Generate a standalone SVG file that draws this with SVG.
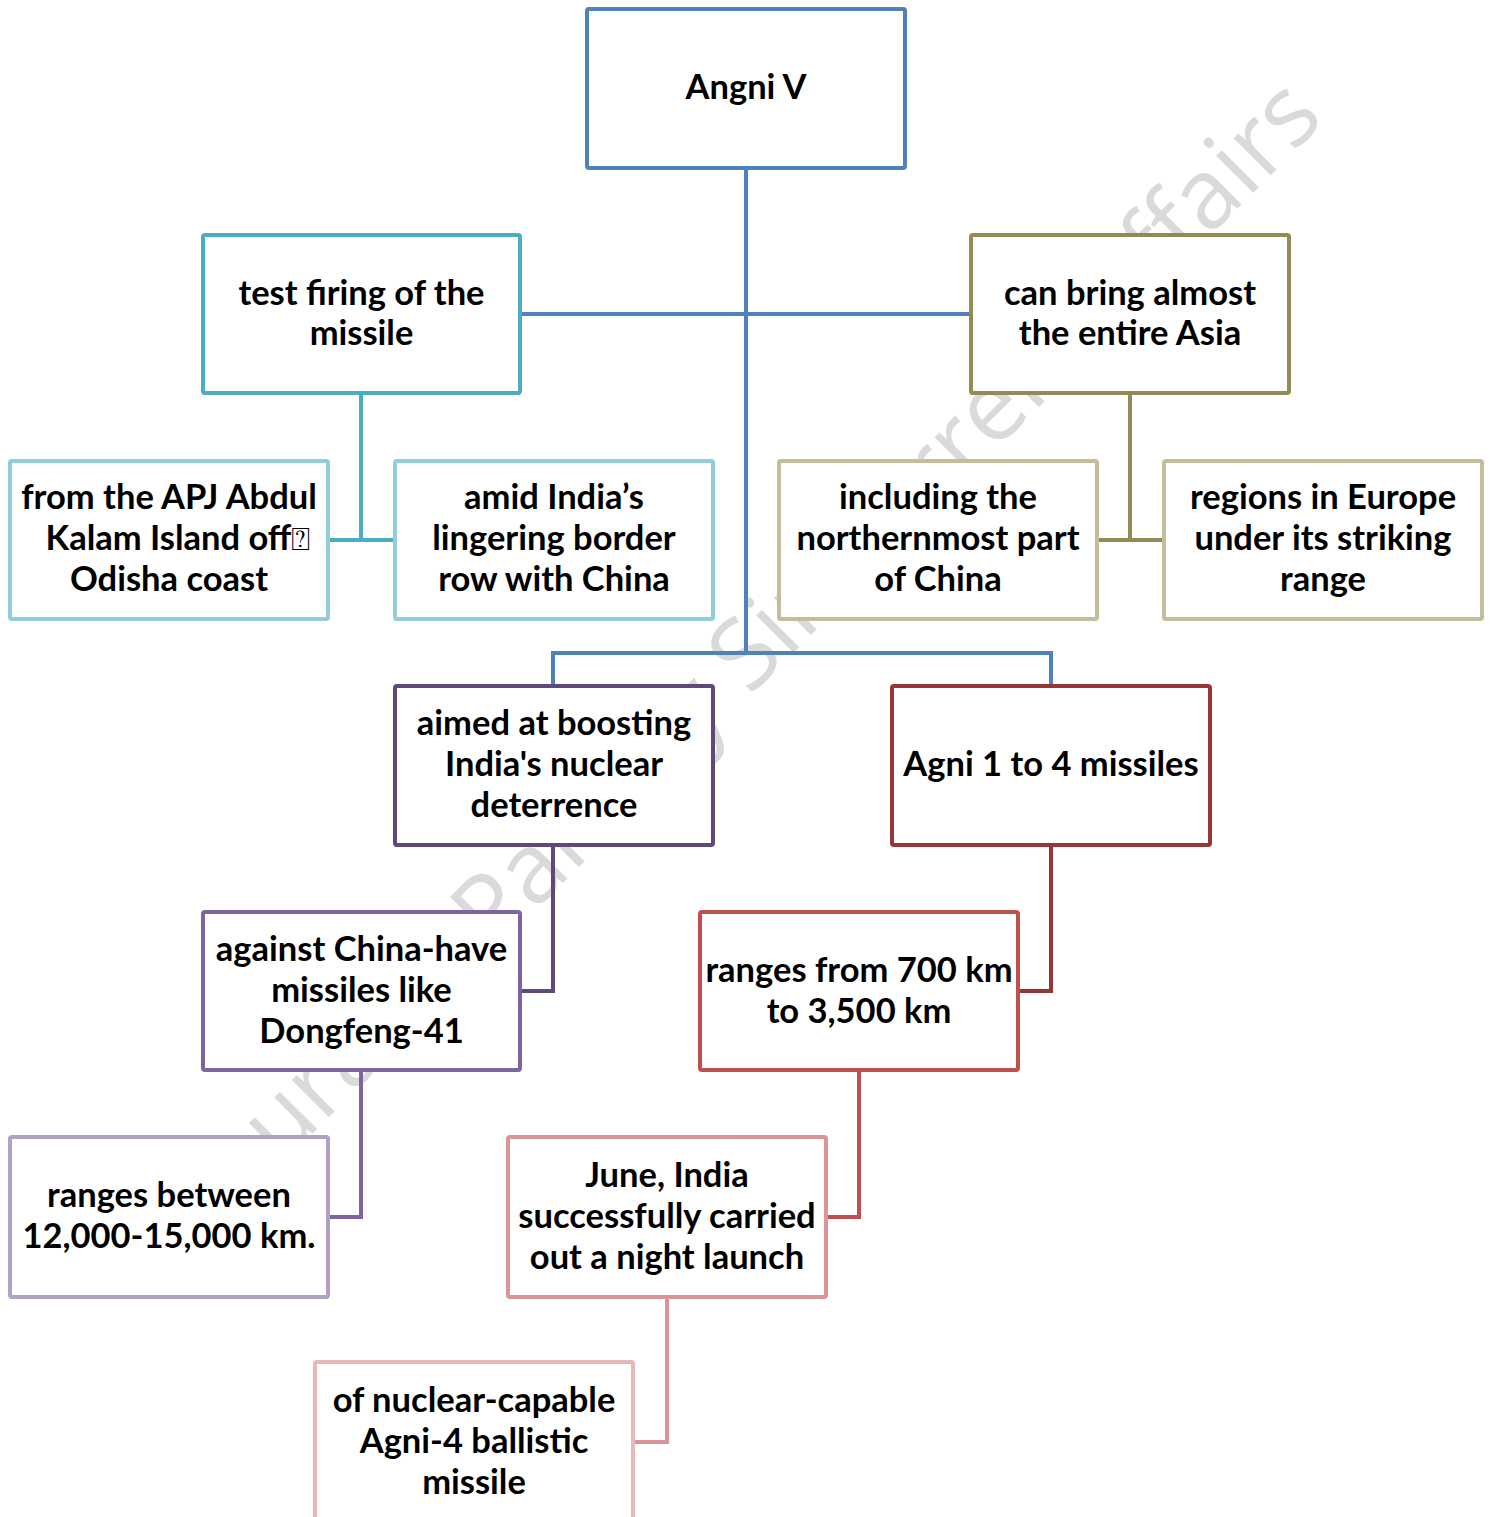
<svg xmlns="http://www.w3.org/2000/svg" width="1491" height="1517" viewBox="0 0 1491 1517">
<style>
  .box { fill: #ffffff; stroke-width: 4; }
  .lbl { font-family: Lato, "Open Sans", "Liberation Sans", sans-serif; font-weight: 700; font-size: 34.5px; fill: #000000; text-anchor: middle; }
  .con { fill: none; stroke-width: 4; }
  .wm { font-family: "Open Sans", "Noto Sans", sans-serif; font-size: 98px; fill: #dadada; text-anchor: end; }
</style>
<rect x="0" y="0" width="1491" height="1517" fill="#ffffff"/>
<text class="wm" x="1326" y="120" transform="rotate(-45 1326 120)">Saurabh Pandey Sir Current Affairs</text>
<g id="connectors">
  <path class="con" stroke="#4F81BD" d="M746 168 V653 M521 314 H971 M553 686 V653 H1051 V686"/>
  <path class="con" stroke="#4BACC6" d="M361 393 V540 M328 540 H395"/>
  <path class="con" stroke="#948A54" d="M1130 393 V540 M1097 540 H1164"/>
  <path class="con" stroke="#5F497A" d="M553 845 V991 H520"/>
  <path class="con" stroke="#953735" d="M1051 845 V991 H1018"/>
  <path class="con" stroke="#8064A2" d="M361 1070 V1217 H328"/>
  <path class="con" stroke="#C0504D" d="M859 1070 V1217 H826"/>
  <path class="con" stroke="#D99694" d="M667 1297 V1442 H633"/>
</g>
<g id="n1"><rect class="box" stroke="#4F81BD" x="587" y="9" width="318" height="159" rx="2"/><text class="lbl" x="746" y="99">Angni V</text></g>
<g id="n2"><rect class="box" stroke="#4BACC6" x="203" y="235" width="317" height="158" rx="2"/><text class="lbl" x="361.5" y="305">test firing of the<tspan x="361.5" y="345">missile</tspan></text></g>
<g id="n3"><rect class="box" stroke="#948A54" x="971" y="235" width="318" height="158" rx="2"/><text class="lbl" x="1130" y="305">can bring almost<tspan x="1130" y="345">the entire Asia</tspan></text></g>
<g id="n4"><rect class="box" stroke="#92CDDC" x="10" y="461" width="318" height="158" rx="2"/><text class="lbl" x="169" y="509">from the APJ Abdul<tspan x="178" y="550">Kalam Island off<tspan style="font-family:'DejaVu Sans',sans-serif;font-weight:400;font-size:32px">⍰</tspan></tspan><tspan x="169" y="591">Odisha coast</tspan></text></g>
<g id="n5"><rect class="box" stroke="#92CDDC" x="395" y="461" width="318" height="158" rx="2"/><text class="lbl" x="554" y="509">amid India’s<tspan x="554" y="550">lingering border</tspan><tspan x="554" y="591">row with China</tspan></text></g>
<g id="n6"><rect class="box" stroke="#C4BD97" x="779" y="461" width="318" height="158" rx="2"/><text class="lbl" x="938" y="509">including the<tspan x="938" y="550">northernmost part</tspan><tspan x="938" y="591">of China</tspan></text></g>
<g id="n7"><rect class="box" stroke="#C4BD97" x="1164" y="461" width="318" height="158" rx="2"/><text class="lbl" x="1323" y="509">regions in Europe<tspan x="1323" y="550">under its striking</tspan><tspan x="1323" y="591">range</tspan></text></g>
<g id="n8"><rect class="box" stroke="#5F497A" x="395" y="686" width="318" height="159" rx="2"/><text class="lbl" x="554" y="735">aimed at boosting<tspan x="554" y="776">India's nuclear</tspan><tspan x="554" y="817">deterrence</tspan></text></g>
<g id="n9"><rect class="box" stroke="#953735" x="892" y="686" width="318" height="159" rx="2"/><text class="lbl" x="1051" y="776">Agni 1 to 4 missiles</text></g>
<g id="n10"><rect class="box" stroke="#8064A2" x="203" y="912" width="317" height="158" rx="2"/><text class="lbl" x="361.5" y="961">against China-have<tspan x="361.5" y="1002">missiles like</tspan><tspan x="361.5" y="1043">Dongfeng-41</tspan></text></g>
<g id="n11"><rect class="box" stroke="#C0504D" x="700" y="912" width="318" height="158" rx="2"/><text class="lbl" x="859" y="982">ranges from 700 km<tspan x="859" y="1023">to 3,500 km</tspan></text></g>
<g id="n12"><rect class="box" stroke="#B2A1C7" x="10" y="1137" width="318" height="160" rx="2"/><text class="lbl" x="169" y="1207">ranges between<tspan x="169" y="1248">12,000-15,000 km.</tspan></text></g>
<g id="n13"><rect class="box" stroke="#D99694" x="508" y="1137" width="318" height="160" rx="2"/><text class="lbl" x="667" y="1187">June, India<tspan x="667" y="1228">successfully carried</tspan><tspan x="667" y="1269">out a night launch</tspan></text></g>
<g id="n14"><rect class="box" stroke="#E6B9B8" x="315" y="1362" width="318" height="175" rx="2"/><text class="lbl" x="474" y="1412">of nuclear-capable<tspan x="474" y="1453">Agni-4 ballistic</tspan><tspan x="474" y="1494">missile</tspan></text></g>
</svg>
